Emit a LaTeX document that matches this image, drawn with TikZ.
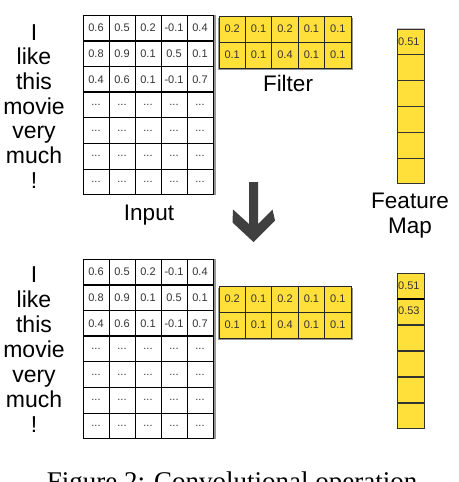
\documentclass[tikz,border=0pt]{standalone}
\usepackage{fontspec}
\setmainfont{Liberation Sans}
\newfontfamily\capfont{Liberation Serif}
\definecolor{fyellow}{RGB}{255,224,58}
\definecolor{arrowgray}{RGB}{64,64,64}
\definecolor{shadowgray}{RGB}{150,150,150}
\newcommand\celldots{...}
\tikzset{
  numtext/.style={font=\fontsize{11}{11}\selectfont, text=black!80},
  incell/.style={draw=black, line width=0.9pt, fill=white, anchor=north west,
    minimum width=26pt, minimum height=25.7pt, inner sep=0pt, outer sep=0pt, numtext},
  ycell/.style={draw=black!85, line width=1pt, fill=fyellow, anchor=north west,
    minimum width=26.4pt, minimum height=26pt, inner sep=0pt, outer sep=0pt, numtext},
  fcell/.style={draw=black!80, line width=0.9pt, fill=fyellow, anchor=north west,
    minimum width=27pt, minimum height=25.8pt, inner sep=0pt, outer sep=0pt, numtext},
  word/.style={font=\fontsize{23}{23}\selectfont, anchor=base, inner sep=0pt},
  biglabel/.style={font=\fontsize{22.5}{22.5}\selectfont, anchor=base, inner sep=0pt},
  rowline/.style={line width=1.8pt, black},
}
\newcommand\inputgrid[2]{%
  \fill[shadowgray] (212,#2) rectangle (215.5,#2+180);
  \foreach \r/\vals in {1/{0.6,0.5,0.2,-0.1,0.4},2/{0.8,0.9,0.1,0.5,0.1},3/{0.4,0.6,0.1,-0.1,0.7},
      4/{\celldots,\celldots,\celldots,\celldots,\celldots},5/{\celldots,\celldots,\celldots,\celldots,\celldots},
      6/{\celldots,\celldots,\celldots,\celldots,\celldots},7/{\celldots,\celldots,\celldots,\celldots,\celldots}}{
    \foreach \v [count=\c] in \vals {
      \node[incell] (#1-\r-\c) at ({83+26*(\c-1)},{#2+25.7*(\r-1)}) {\v};
    }
  }
  \foreach \r in {1,2,3}{
    \draw[rowline] (#1-\r-1.south west) -- (#1-\r-5.south east);
  }
}
\newcommand\filtergrid[2]{%
  \fill[shadowgray] (#2-1,#1+1.5) rectangle (#2+133.5,#1+53.5);
  \foreach \r/\vals in {1/{0.2,0.1,0.2,0.1,0.1},2/{0.1,0.1,0.4,0.1,0.1}}{
    \foreach \v [count=\c] in \vals {
      \node[ycell] (#1f-\r-\c) at ({#2+26.4*(\c-1)},{#1+26*(\r-1)}) {\v};
    }
  }
}
\begin{document}
\begin{tikzpicture}[x=1pt,y=-1pt]
\useasboundingbox (0,0) rectangle (458,482);
\clip (0,0) rectangle (458,482);

% ---------- top half ----------
\foreach \w [count=\i] in {I,like,this,movie,very,much,!}{
  \node[word] (tw\i) at (34,{40+24.7*(\i-1)}) {\w};
}
\inputgrid{ti}{15}
\filtergrid{16}{219}
\node[biglabel] (tfilterlbl) at (288,91) {Filter};
\node[biglabel] (tinputlbl) at (149,220) {Input};

\fill[shadowgray!60] (396.5,28) rectangle (425,30);
\foreach \i in {1,...,6}{
  \node[fcell] (tfm\i) at (397,{29+25.8*(\i-1)}) {};
}
\node[numtext, anchor=west, inner sep=0pt] (tfmv1) at (398,{29+12.9}) {0.51};
\node[biglabel] (featlbl) at (410,208) {Feature};
\node[biglabel] (maplbl) at (410,233) {Map};

% ---------- arrow ----------
\fill[arrowgray] (249,182) -- (258,182) -- (258,224) -- (272.5,209.5) -- (275,220.5)
  -- (253.5,242) -- (232.5,222.5) -- (233,209.5) -- (249,224) -- cycle;

% ---------- bottom half ----------
\foreach \w [count=\i] in {I,like,this,movie,very,much,!}{
  \node[word] (bw\i) at (34,{282+25.1*(\i-1)}) {\w};
}
\inputgrid{bi}{259}
\filtergrid{286}{219}

\foreach \i in {1,...,6}{
  \node[fcell] (bfm\i) at (397,{273+26*(\i-1)}) {};
}
\draw[line width=1.8pt, black] (bfm1.south west) -- (bfm1.south east);
\node[numtext, anchor=west, inner sep=0pt] (bfmv1) at (398,{273+13}) {0.51};
\node[numtext, anchor=west, inner sep=0pt] (bfmv2) at (398,{299+12}) {0.53};

% ---------- caption (cut by the frame) ----------
\node[font=\capfont\fontsize{27}{27}\selectfont, anchor=base, inner sep=0pt] (caption)
  at (232,490) {Figure 2: Convolutional operation};
\end{tikzpicture}
\end{document}
